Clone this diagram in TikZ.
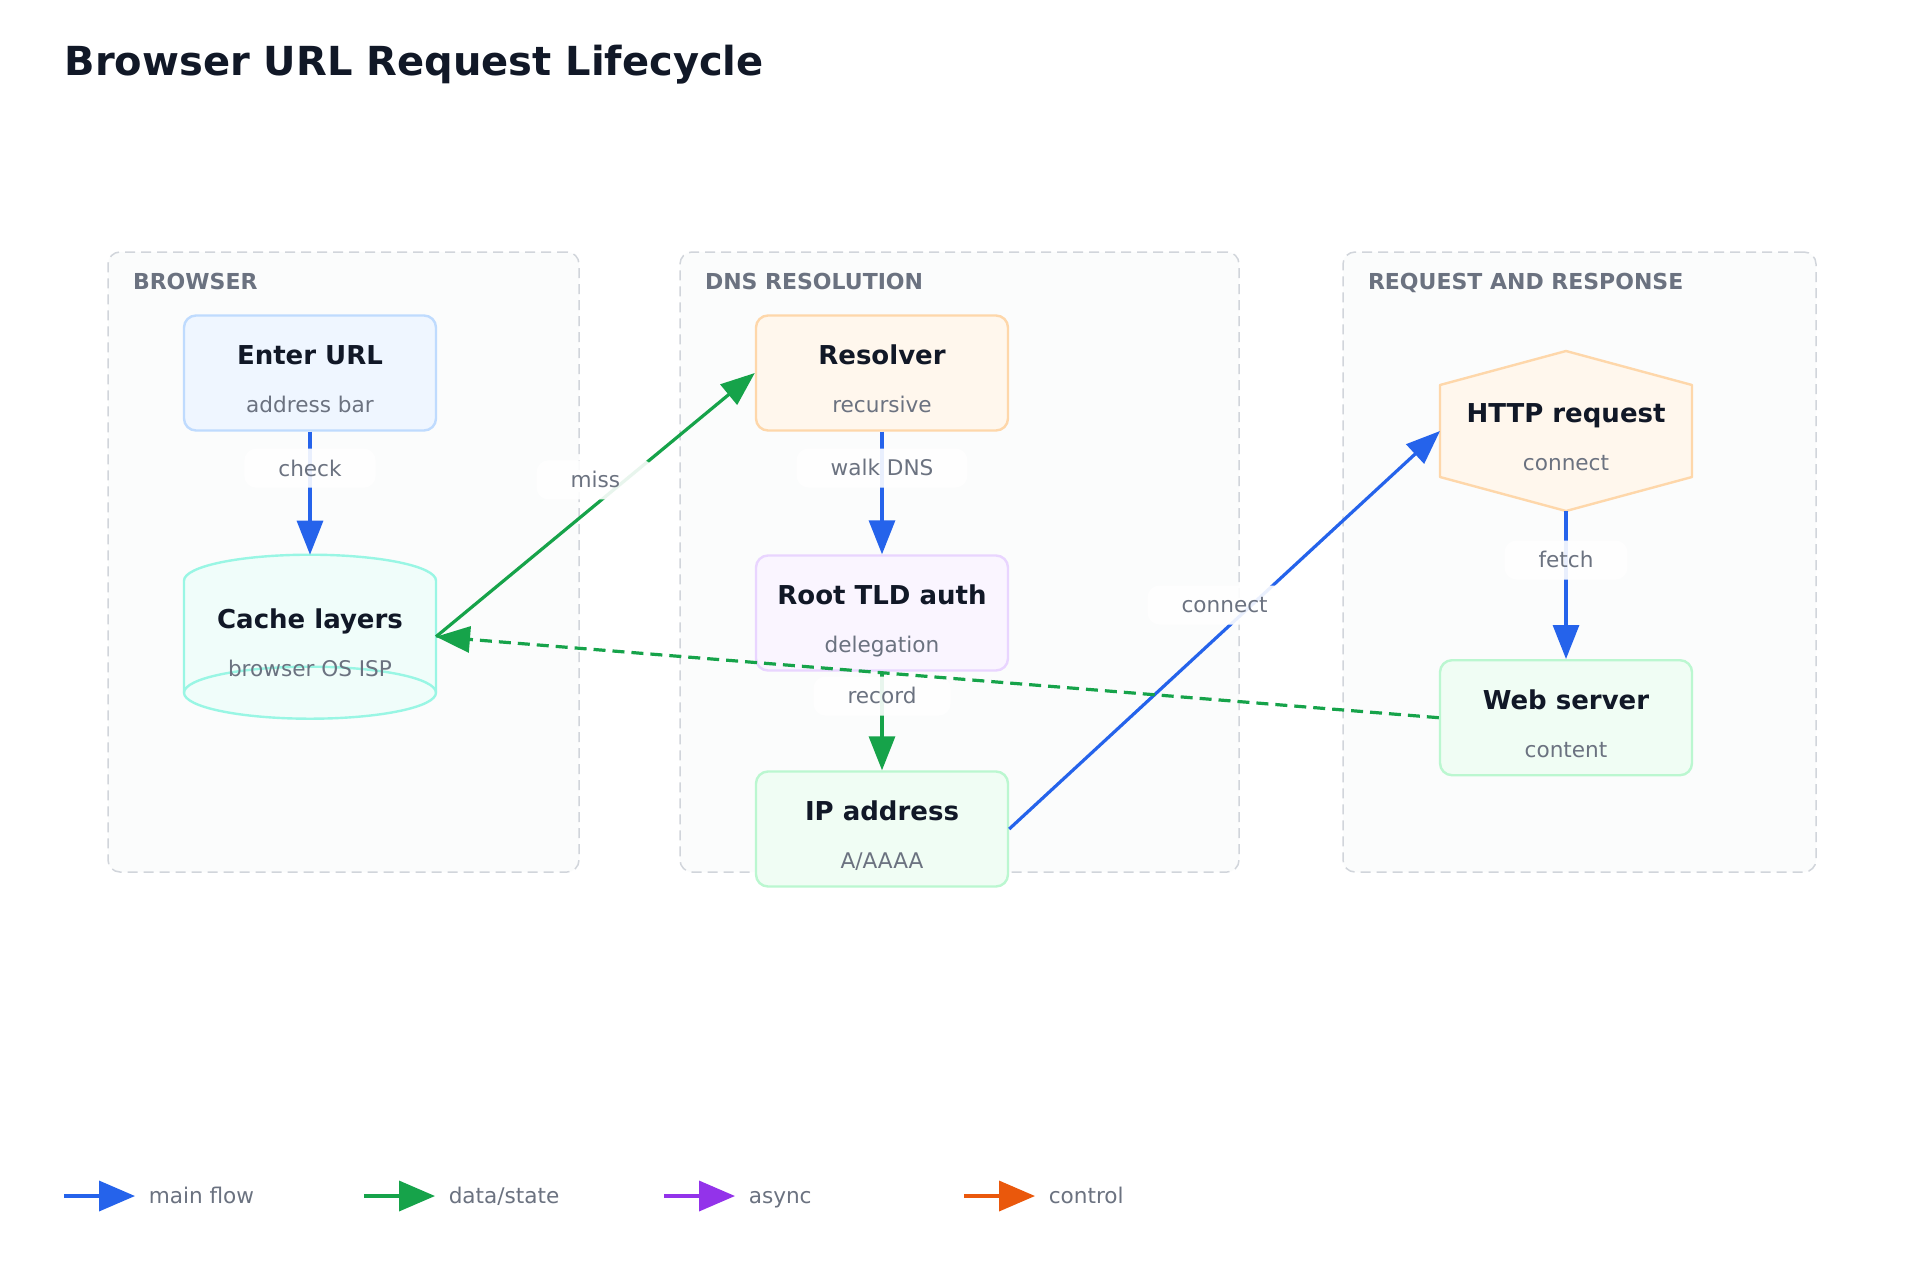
\documentclass[tikz,border=0pt]{standalone}
\usepackage{fontspec}
\setmainfont{DejaVu Sans}
\usetikzlibrary{arrows.meta,positioning,calc}

\definecolor{flowblue}{HTML}{2563EB}
\definecolor{flowgreen}{HTML}{16A34A}
\definecolor{flowpurple}{HTML}{9333EA}
\definecolor{floworange}{HTML}{EA580C}
\definecolor{ink}{HTML}{111827}
\definecolor{muted}{HTML}{6B7280}
\definecolor{grpline}{HTML}{D1D5DB}
\definecolor{grpfill}{HTML}{FBFCFC}
\definecolor{bluefill}{HTML}{EFF6FF}
\definecolor{blueline}{HTML}{BFDBFE}
\definecolor{tealfill}{HTML}{F0FDFA}
\definecolor{tealline}{HTML}{99F6E4}
\definecolor{orangefill}{HTML}{FFF7ED}
\definecolor{orangeline}{HTML}{FED7AA}
\definecolor{purplefill}{HTML}{FAF5FF}
\definecolor{purpleline}{HTML}{E9D5FF}
\definecolor{greenfill}{HTML}{F0FDF4}
\definecolor{greenline}{HTML}{BBF7D0}

\tikzset{
  every picture/.style={line width=0.75pt},
  plain/.style={inner sep=0pt, outer sep=0pt},
  grp/.style={draw=grpline, fill=grpfill, dash pattern=on 5pt off 3pt, line width=0.75pt, rounded corners=6pt, minimum height=310pt},
  grplabel/.style={anchor=west, inner sep=0pt, text=muted, font=\fontsize{11}{13}\selectfont\bfseries, text height=8pt, text depth=0pt},
  box/.style={draw, rounded corners=6pt, line width=1.2pt, minimum width=126pt, minimum height=57.5pt, inner sep=0pt},
  shapeline/.style={line width=1.2pt, line join=round},
  ttl/.style={inner sep=0pt, text=ink, font=\fontsize{13}{15}\selectfont\bfseries, text height=9.5pt, text depth=0pt},
  subtxt/.style={inner sep=0pt, text=muted, font=\fontsize{10.8}{13}\selectfont, text height=7.9pt, text depth=0pt},
  flow/.style={-{Triangle[length=17pt,width=13pt]}, line width=1.6pt},
  elabel/.style={fill=white, fill opacity=0.9, text opacity=1, rounded corners=6pt, text=muted,
    font=\fontsize{10.8}{13}\selectfont, text height=7.9pt, text depth=0pt, minimum height=19.5pt, inner xsep=17pt, yshift=12.5pt},
  legarrow/.style={-{Triangle[length=18pt,width=15pt]}, line width=1.8pt},
  legtext/.style={anchor=west, inner sep=0pt, text=muted, font=\fontsize{10.8}{13}\selectfont, text height=7.9pt, text depth=0pt}
}

\begin{document}
\begin{tikzpicture}[x=0.5pt,y=0.5pt]
  \useasboundingbox (0,0) rectangle (1920,-1280);
  \fill[white] (0,0) rectangle (1920,-1280);

  \node[anchor=west, inner sep=0pt, text=ink, font=\fontsize{20}{24}\selectfont\bfseries, text height=14.6pt, text depth=0pt] (title) at (64,-61) {Browser URL Request Lifecycle};

  % groups
  \node[grp, minimum width=235.5pt] (gbrowser) at (343.5,-562) {};
  \node[grp, minimum width=279.5pt] (gdns) at (959.5,-562) {};
  \node[grp, minimum width=236.5pt] (greq) at (1579.5,-562) {};
  \node[grplabel] (lbrowser) at ([xshift=12.5pt,yshift=-15pt]gbrowser.north west) {BROWSER};
  \node[grplabel] (ldns) at ([xshift=12.5pt,yshift=-15pt]gdns.north west) {DNS RESOLUTION};
  \node[grplabel] (lreq) at ([xshift=12.5pt,yshift=-15pt]greq.north west) {REQUEST AND RESPONSE};

  % browser
  \node[box, fill=bluefill, draw=blueline] (enter) at (310,-373) {};
  \node[ttl] (enter-t) at ([yshift=9pt]enter.center) {Enter URL};
  \node[subtxt] (enter-s) at ([yshift=-16pt]enter.center) {address bar};

  \node[plain, minimum width=126pt, minimum height=82pt, below=61.5pt of enter] (cache) {};
  \fill[tealfill] ([yshift=-13pt]cache.north west) -- ([yshift=13pt]cache.south west)
    arc[start angle=180, end angle=360, x radius=63pt, y radius=13pt]
    -- ([yshift=-13pt]cache.north east)
    arc[start angle=0, end angle=180, x radius=63pt, y radius=13pt] -- cycle;
  \draw[shapeline, tealline] ([yshift=-13pt]cache.north west)
    arc[start angle=180, end angle=0, x radius=63pt, y radius=13pt]
    -- ([yshift=13pt]cache.south east)
    arc[start angle=0, end angle=-180, x radius=63pt, y radius=13pt] -- cycle;
  \draw[shapeline, tealline] ([yshift=13pt]cache.south west)
    arc[start angle=180, end angle=0, x radius=63pt, y radius=13pt];
  \node[ttl] (cache-t) at ([yshift=9pt]cache.center) {Cache layers};
  \node[subtxt] (cache-s) at ([yshift=-16pt]cache.center) {browser OS ISP};

  % dns
  \node[box, fill=orangefill, draw=orangeline] (resolver) at (882,-373) {};
  \node[ttl] (resolver-t) at ([yshift=9pt]resolver.center) {Resolver};
  \node[subtxt] (resolver-s) at ([yshift=-16pt]resolver.center) {recursive};

  \node[box, fill=purplefill, draw=purpleline, below=61.3pt of resolver] (root) {};
  \node[ttl] (root-t) at ([yshift=9pt]root.center) {Root TLD auth};
  \node[subtxt] (root-s) at ([yshift=-16pt]root.center) {delegation};

  \node[box, fill=greenfill, draw=greenline, below=49.3pt of root] (ip) {};
  \node[ttl] (ip-t) at ([yshift=9pt]ip.center) {IP address};
  \node[subtxt] (ip-s) at ([yshift=-16pt]ip.center) {A/AAAA};

  % request and response
  \node[plain, minimum width=126pt, minimum height=80pt] (http) at (1566,-431) {};
  \filldraw[shapeline, fill=orangefill, draw=orangeline] (http.north)
    -- ([yshift=-17pt]http.north east) -- ([yshift=17pt]http.south east)
    -- (http.south) -- ([yshift=17pt]http.south west)
    -- ([yshift=-17pt]http.north west) -- cycle;
  \node[ttl] (http-t) at ([yshift=9pt]http.center) {HTTP request};
  \node[subtxt] (http-s) at ([yshift=-16pt]http.center) {connect};

  \node[box, fill=greenfill, draw=greenline, below=74pt of http] (web) {};
  \node[ttl] (web-t) at ([yshift=9pt]web.center) {Web server};
  \node[subtxt] (web-s) at ([yshift=-16pt]web.center) {content};

  % connectors
  \draw[flow, flowblue] (enter) -- node[elabel] {check} (cache);
  \draw[flow, flowgreen] (cache.east) -- node[elabel] {miss} (resolver.west);
  \draw[flow, flowblue] (resolver) -- node[elabel] {walk DNS} (root);
  \draw[flow, flowgreen] (root) -- node[elabel] {record} (ip);
  \draw[flow, flowblue] (ip.east) -- node[elabel] {connect} (http.west);
  \draw[flow, flowblue] (http.south) -- node[elabel] {fetch} (web);
  \draw[flow, flowgreen, dash pattern=on 6pt off 3.5pt] (web.west) -- (cache.east);

  % legend
  \foreach \col/\txt [count=\i from 0] in {flowblue/main flow, flowgreen/{data/state}, flowpurple/async, floworange/control} {
    \coordinate (lg\i) at (64+300*\i,-1196);
    \coordinate (lgend\i) at (135+300*\i,-1196);
    \draw[legarrow, \col] (lg\i) -- (lgend\i);
    \node[legtext] (lgt\i) at (148+300*\i,-1196) {\txt};
  }
\end{tikzpicture}
\end{document}
